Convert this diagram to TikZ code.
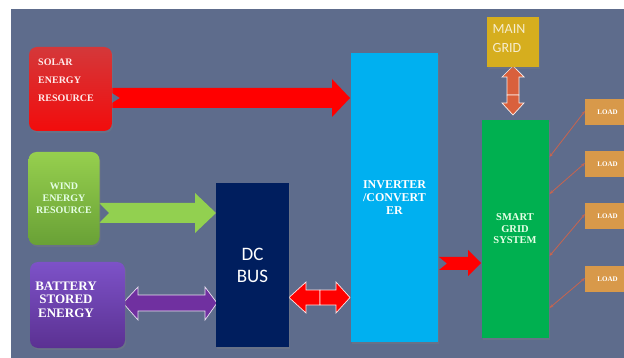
\documentclass[tikz,border=0pt]{standalone}
\usepackage{fontspec}
\setmainfont{Liberation Serif}
\newfontfamily\carlito{Carlito}
\usetikzlibrary{shadows,arrows.meta}
\definecolor{bgc}{HTML}{5E6C8C}
\definecolor{invc}{HTML}{00B0F0}
\definecolor{dcc}{HTML}{001E5E}
\definecolor{sgc}{HTML}{00B050}
\definecolor{mgc}{HTML}{D6AE1E}
\definecolor{loadc}{HTML}{D8994A}
\definecolor{solartop}{HTML}{D4383A}
\definecolor{solarbot}{HTML}{F20C0C}
\definecolor{windtop}{HTML}{96CF4E}
\definecolor{windbot}{HTML}{69A136}
\definecolor{battop}{HTML}{7D52C8}
\definecolor{batbot}{HTML}{5B3192}
\definecolor{batarrow}{HTML}{7030A0}
\definecolor{windarrow}{HTML}{92D050}
\definecolor{gridarrow}{HTML}{D9603C}
\definecolor{loadline}{HTML}{C8644E}
\tikzset{
  blk/.style={inner sep=0pt, outer sep=0pt, text=white, align=center,
    drop shadow={shadow xshift=1.2pt, shadow yshift=-1.8pt, opacity=0.3}},
  rblk/.style={blk, rounded corners=8pt},
  loadbox/.style={inner sep=0pt, outer sep=0pt, fill=loadc, minimum width=45pt,
    minimum height=26pt, text=white, font=\fontsize{7}{8}\selectfont\bfseries},
  loadlink/.style={draw=loadline, line width=0.8pt,
    {Stealth[length=4pt,width=3pt]}-{Stealth[length=4pt,width=3pt]}},
  blockarrow/.style={line width=0.7pt, line join=miter}
}
\begin{document}
\begin{tikzpicture}[x=1pt,y=-1pt]
\useasboundingbox (0,0) rectangle (624,358);
\fill[white] (0,0) rectangle (624,358);
\fill[bgc] (11,9) rectangle (624,358);

% block arrows (drawn first so tails hide behind boxes)
\fill[red] (104,88) -- (332,88) -- (332,79) -- (350,98) -- (332,117) -- (332,108)
  -- (104,108) -- (120,98) -- cycle;
\fill[windarrow] (99,203) -- (195,203) -- (195,193) -- (216,213) -- (195,233)
  -- (195,223) -- (99,223) -- (109,213) -- cycle;
\fill[red] (439,257) -- (468,257) -- (468,250) -- (481,263) -- (468,276)
  -- (468,270) -- (439,270) -- (447,263.5) -- cycle;
\filldraw[blockarrow, fill=batarrow, draw=white!85!batarrow]
  (123,303) -- (138,287) -- (138,295) -- (205,295) -- (205,287) -- (217,303)
  -- (205,320) -- (205,311) -- (138,311) -- (138,320) -- cycle;
\filldraw[blockarrow, fill=red, draw=white!90!red]
  (289,297.5) -- (306,282) -- (306,290) -- (320,290) -- (320,305) -- (306,305)
  -- (306,313) -- cycle;
\filldraw[blockarrow, fill=red, draw=white!90!red]
  (350,297.5) -- (336,282) -- (336,290) -- (320,290) -- (320,305) -- (336,305)
  -- (336,313) -- cycle;
\filldraw[blockarrow, fill=gridarrow, draw=white!90!gridarrow]
  (513,66) -- (524,77) -- (519,77) -- (519,95) -- (507,95) -- (507,77)
  -- (502,77) -- cycle;
\filldraw[blockarrow, fill=gridarrow, draw=white!90!gridarrow]
  (513,115) -- (524,103) -- (519,103) -- (519,95) -- (507,95) -- (507,103)
  -- (502,103) -- cycle;

% boxes
\node[rblk, top color=solartop, bottom color=solarbot,
  minimum width=83pt, minimum height=84pt] (solar) at (70.5,89) {};
\node[anchor=north west, inner sep=0pt, text=white!92!red, align=left,
  font=\fontsize{10}{18}\selectfont\bfseries] (solartext) at (38,59)
  {SOLAR\\ENERGY\\RESOURCE};

\node[rblk, top color=windtop, bottom color=windbot,
  minimum width=71pt, minimum height=93pt,
  font=\fontsize{10}{12}\selectfont\bfseries, text=white!90!green] (wind) at (64,198.5)
  {WIND\\ENERGY\\RESOURCE};

\node[rblk, top color=battop, bottom color=batbot,
  minimum width=95pt, minimum height=86pt] (batt) at (77.5,305) {};
\node[anchor=north, inner sep=0pt, text=white, align=center,
  font=\fontsize{13}{13.5}\selectfont\bfseries] (batttext) at (66,281.5)
  {BATTERY\\STORED\\ENERGY};

\node[blk, fill=dcc, minimum width=73pt, minimum height=164pt,
  font=\carlito\fontsize{19}{22}\selectfont] (dcbus) at (252.5,265) {DC\\BUS};

\node[blk, fill=invc, minimum width=87pt, minimum height=289pt,
  font=\fontsize{12}{13}\selectfont\bfseries] (inv) at (394.5,197.5)
  {INVERTER\\/CONVERT\\ER};

\node[blk, fill=sgc, minimum width=67pt, minimum height=218pt,
  font=\fontsize{10.5}{11.5}\selectfont\bfseries, text=white!90!green] (sg) at (515,229)
  {SMART\\GRID\\SYSTEM};

\node[blk, fill=mgc, minimum width=52pt, minimum height=50pt] (mg) at (512.5,42) {};
\node[anchor=north west, inner sep=0pt, align=left, text=white!78!mgc,
  font=\carlito\fontsize{14}{19}\selectfont] (mgtext) at (492.5,24) {MAIN\\GRID};

% loads
\node[loadbox] (l1) at (607.5,112.5) {LOAD};
\node[loadbox] (l2) at (607.5,164.5) {LOAD};
\node[loadbox] (l3) at (607.5,216) {LOAD};
\node[loadbox] (l4) at (607.5,279) {LOAD};

\draw[loadlink] ([xshift=1pt]sg.east |- 0,157) -- ([yshift=1.5pt]l1.west);
\draw[loadlink] ([xshift=1pt]sg.east |- 0,194) -- ([yshift=1.5pt]l2.west);
\draw[loadlink] ([xshift=1pt]sg.east |- 0,256) -- ([yshift=2pt]l3.west);
\draw[loadlink] ([xshift=1pt]sg.east |- 0,308) -- ([yshift=1pt]l4.west);
\end{tikzpicture}
\end{document}
